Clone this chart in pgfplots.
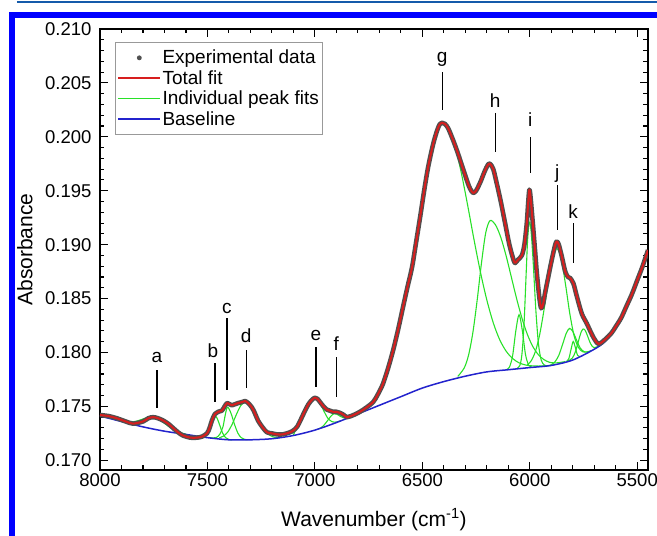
\documentclass[border=0pt]{standalone}
\usepackage{pgfplots}
\pgfplotsset{compat=1.18}
\usepackage{fontspec}
\setmainfont{Liberation Sans}
\definecolor{expgray}{RGB}{80,80,80}
\definecolor{fitred}{RGB}{215,30,30}
\definecolor{peakgreen}{RGB}{40,225,40}
\definecolor{baseblue}{RGB}{35,35,205}
\definecolor{frameblue}{RGB}{0,0,255}
\definecolor{topline}{RGB}{20,90,170}
\begin{document}
\begin{tikzpicture}
\useasboundingbox (-100pt,-66pt) rectangle (557pt,470pt);
\draw[frameblue, line width=5.5pt, line join=miter] (-87.8pt,-80pt) -- (-87.8pt,455.2pt) -- (570pt,455.2pt);
\draw[topline, line width=2pt] (-83pt,468.3pt) -- (570pt,468.3pt);
\begin{axis}[
  scale only axis, width=548pt, height=441pt, at={(0pt,0pt)}, anchor=south west,
  xmin=5450, xmax=8000, x dir=reverse, ymin=0.1691, ymax=0.210,
  scaled x ticks=false, scaled y ticks=false,
  xtick={5500,6000,6500,7000,7500,8000}, minor x tick num=4,
  ytick={0.170,0.175,0.180,0.185,0.190,0.195,0.200,0.205,0.210}, minor y tick num=4,
  major tick length=8pt, minor tick length=4.5pt,
  every tick/.style={black, line width=1.1pt},
  axis line style={black, line width=1.3pt},
  tick label style={font=\fontsize{18.5}{20}\selectfont},
  /pgf/number format/assume math mode=true,
  xticklabel style={/pgf/number format/set thousands separator={}},
  yticklabel style={xshift=-5pt, /pgf/number format/fixed, /pgf/number format/fixed zerofill, /pgf/number format/precision=3},
  xlabel={Wavenumber (cm\textsuperscript{-1})}, ylabel={Absorbance},
  label style={font=\fontsize{21}{24}\selectfont},
  xlabel style={at={(axis description cs:0.5,-0.113)}, anchor=center},
  ylabel style={at={(axis description cs:-0.137,0.5)}, anchor=center},
  legend style={at={(0.0274,0.9705)}, anchor=north west, draw=gray!80, line width=0.8pt,
    font=\fontsize{19}{20}\selectfont, inner xsep=2pt, inner ysep=6.5pt, row sep=2.5pt,
    nodes={inner sep=1.3pt}},
  legend cell align=left,
]
\addlegendimage{legend image code/.code={\fill[expgray] (21pt,0pt) circle (2pt);}}
\addlegendentry{Experimental data}
\addlegendimage{legend image code/.code={\draw[fitred, line width=1.8pt] (0pt,0pt) -- (42pt,0pt);}}
\addlegendentry{Total fit}
\addlegendimage{legend image code/.code={\draw[peakgreen, line width=1.8pt] (0pt,0pt) -- (42pt,0pt);}}
\addlegendentry{Individual peak fits}
\addlegendimage{legend image code/.code={\draw[baseblue, line width=1.8pt] (0pt,0pt) -- (42pt,0pt);}}
\addlegendentry{Baseline}

% ---------- individual peak fits (baseline + peak) ----------
% a
\addplot[forget plot, peakgreen, line width=1.1pt, smooth] coordinates {
(7900,0.17363) (7875,0.17356) (7850,0.17356) (7825,0.17366) (7800,0.17383) (7775,0.17399) (7750,0.17400)
(7725,0.17379) (7700,0.17343) (7675,0.17306) (7650,0.17276) (7625,0.17256) (7600,0.17243)};
% b
\addplot[forget plot, peakgreen, line width=1.1pt, smooth] coordinates {
(7545,0.17224) (7530,0.17222) (7515,0.17231) (7500,0.17269) (7485,0.17346) (7475,0.17394) (7465,0.17413)
(7455,0.17390) (7445,0.17338) (7430,0.17255) (7415,0.17209) (7400,0.17193) (7385,0.17190)};
% c
\addplot[forget plot, peakgreen, line width=1.1pt, smooth] coordinates {
(7488,0.17210) (7473,0.17207) (7458,0.17212) (7443,0.17240) (7428,0.17309) (7418,0.17412) (7408,0.17492)
(7398,0.17471) (7388,0.17423) (7373,0.17327) (7358,0.17251) (7343,0.17210) (7328,0.17195) (7313,0.17191)};
% d
\addplot[forget plot, peakgreen, line width=1.1pt, smooth] coordinates {
(7445,0.17209) (7425,0.17225) (7405,0.17263) (7385,0.17334) (7365,0.17426) (7345,0.17507) (7325,0.17540)
(7305,0.17516) (7285,0.17455) (7265,0.17378) (7245,0.17308) (7225,0.17257) (7205,0.17227) (7185,0.17212) (7165,0.17211)};
% e
\addplot[forget plot, peakgreen, line width=1.1pt, smooth] coordinates {
(7100,0.17235) (7080,0.17323) (7060,0.17396) (7040,0.17478) (7020,0.17547) (7000,0.17580) (6980,0.17549)
(6960,0.17464) (6940,0.17391) (6920,0.17358) (6900,0.17355) (6880,0.17367)};
% f
\addplot[forget plot, peakgreen, line width=1.1pt, smooth] coordinates {
(6987,0.17290) (6972,0.17301) (6957,0.17328) (6942,0.17365) (6927,0.17406) (6912,0.17432) (6897,0.17427)
(6882,0.17408) (6867,0.17394) (6852,0.17393) (6837,0.17401)};
% g
\addplot[forget plot, peakgreen, line width=1.1pt, smooth] coordinates {
(6790,0.17440) (6760,0.17480) (6729,0.17540) (6710,0.17600) (6697,0.17650) (6683,0.17710) (6660,0.17850)
(6636,0.18020) (6613,0.18210) (6590,0.18420) (6570,0.18600) (6548,0.18790) (6530,0.19010) (6510,0.19260)
(6490,0.19520) (6473,0.19720) (6450,0.19930) (6431,0.20060) (6418,0.20120) (6408,0.20130) (6395,0.20119)
(6380,0.20086) (6350,0.19927) (6320,0.19678) (6290,0.19374) (6260,0.19051) (6230,0.18748) (6200,0.18487)
(6170,0.18275) (6140,0.18118) (6110,0.18012) (6080,0.17944) (6050,0.17904) (6020,0.17884) (5990,0.17876)
(5960,0.17874) (5930,0.17877) (5900,0.17880)};
% h
\addplot[forget plot, peakgreen, line width=1.1pt, smooth] coordinates {
(6335,0.17778) (6305,0.17857) (6285,0.17975) (6265,0.18183) (6245,0.18483) (6225,0.18827) (6205,0.19110)
(6185,0.19223) (6160,0.19185) (6135,0.19068) (6110,0.18895) (6085,0.18692) (6060,0.18489) (6035,0.18308)
(6010,0.18161) (5985,0.18052) (5960,0.17979) (5935,0.17935) (5910,0.17910) (5885,0.17903) (5860,0.17907) (5835,0.17916)};
% small peak near 6050
\addplot[forget plot, peakgreen, line width=1.1pt, smooth] coordinates {
(6110,0.17840) (6095,0.17863) (6080,0.17969) (6065,0.18201) (6050,0.18350) (6035,0.18207) (6020,0.17981)
(6005,0.17881) (5990,0.17864)};
% i
\addplot[forget plot, peakgreen, line width=1.1pt, smooth] coordinates {
(6062,0.17849) (6047,0.17877) (6037,0.17976) (6027,0.18253) (6017,0.18728) (6010,0.19049) (6002,0.19210)
(5994,0.19125) (5984,0.18829) (5972,0.18399) (5960,0.18086) (5947,0.17930) (5932,0.17883) (5917,0.17877)};
% j
\addplot[forget plot, peakgreen, line width=1.1pt, smooth] coordinates {
(6014,0.17878) (5994,0.17921) (5974,0.18009) (5954,0.18166) (5934,0.18394) (5914,0.18654) (5894,0.18871)
(5874,0.18963) (5854,0.18872) (5834,0.18634) (5814,0.18363) (5794,0.18156) (5774,0.18047) (5754,0.18007)
(5734,0.18004) (5714,0.18018)};
% k
\addplot[forget plot, peakgreen, line width=1.1pt, smooth] coordinates {
(5905,0.17881) (5885,0.17908) (5865,0.17973) (5845,0.18090) (5830,0.18180) (5815,0.18223) (5800,0.18195)
(5785,0.18127) (5765,0.18040) (5745,0.18005) (5725,0.18008)};
% small peak near 5798
\addplot[forget plot, peakgreen, line width=1.1pt, smooth] coordinates {
(5828,0.17920) (5818,0.17945) (5808,0.18029) (5798,0.18102) (5788,0.18045) (5778,0.17975) (5768,0.17964)};
% small peak near 5752
\addplot[forget plot, peakgreen, line width=1.1pt, smooth] coordinates {
(5822,0.17922) (5802,0.17948) (5787,0.18011) (5772,0.18117) (5762,0.18184) (5752,0.18218) (5742,0.18204)
(5732,0.18157) (5717,0.18081) (5702,0.18045) (5682,0.18057)};

% ---------- baseline ----------
\addplot[forget plot, baseblue, line width=1.5pt, smooth] coordinates {
(8000,0.1741) (7900,0.1736) (7800,0.1731) (7700,0.1727) (7600,0.1724) (7500,0.1721) (7400,0.1719)
(7300,0.1719) (7200,0.1720) (7100,0.1723) (7000,0.1728) (6900,0.1735) (6800,0.1743) (6700,0.1751)
(6600,0.1759) (6500,0.1767) (6400,0.1773) (6300,0.1778) (6200,0.1782) (6100,0.1784) (6000,0.1786)
(5900,0.1788) (5800,0.1793) (5700,0.1803) (5650,0.1810) (5600,0.1822) (5550,0.1841) (5500,0.1865) (5450,0.1893)};

% ---------- experimental data and total fit ----------
\pgfplotstableread{
x y
8000 0.1742
7960 0.1741
7922 0.1739
7880 0.1736
7846 0.1734
7800 0.1736
7775 0.1739
7753 0.1740
7730 0.1739
7707 0.1737
7683 0.1734
7660 0.1730
7637 0.1726
7614 0.1723
7580 0.1721
7549 0.1721
7525 0.1722
7502 0.1725
7490 0.1730
7479 0.1737
7465 0.1743
7450 0.1745
7433 0.1746
7420 0.1750
7409 0.1753
7397 0.1752
7386 0.1751
7372 0.1752
7358 0.1753
7340 0.1754
7325 0.1755
7310 0.1753
7293 0.1749
7280 0.1744
7265 0.1737
7245 0.1731
7223 0.1726
7200 0.1725
7176 0.1724
7150 0.1724
7130 0.1725
7105 0.1727
7083 0.1731
7065 0.1738
7046 0.1746
7030 0.1752
7014 0.1756
7000 0.1758
6988 0.1757
6976 0.1754
6960 0.1750
6944 0.1747
6930 0.1746
6916 0.1745
6900 0.1745
6883 0.1744
6865 0.1742
6850 0.1740
6820 0.1742
6790 0.1745
6760 0.1749
6729 0.1754
6710 0.1760
6697 0.1765
6683 0.1771
6660 0.1785
6636 0.1802
6613 0.1821
6590 0.1842
6570 0.1860
6548 0.1879
6530 0.1901
6510 0.1926
6490 0.1952
6473 0.1972
6450 0.1993
6431 0.2006
6418 0.2012
6408 0.2013
6395 0.2012
6380 0.2008
6357 0.1997
6335 0.1985
6310 0.1970
6290 0.1958
6278 0.1952
6264 0.1948
6250 0.1950
6230 0.1958
6210 0.1968
6195 0.1974
6185 0.1975
6170 0.1970
6154 0.1957
6135 0.1940
6115 0.1920
6095 0.1900
6076 0.1886
6068 0.1883
6055 0.1886
6037 0.1890
6025 0.1900
6014 0.1920
6007 0.1940
6002 0.1951
5997 0.1945
5986 0.1920
5975 0.1893
5967 0.1873
5955 0.1850
5947 0.1841
5938 0.1845
5929 0.1855
5917 0.1867
5905 0.1879
5890 0.1893
5880 0.1901
5874 0.1903
5865 0.1900
5851 0.1889
5835 0.1875
5822 0.1870
5812 0.1869
5797 0.1864
5781 0.1852
5758 0.1836
5735 0.1827
5704 0.1814
5680 0.1808
5650 0.1812
5620 0.1818
5600 0.1824
5575 0.1832
5550 0.1843
5525 0.1854
5500 0.1867
5475 0.1880
5450 0.1895
}\totaltable
\addplot[forget plot, expgray, line width=4.6pt, smooth, line join=round] table[x=x,y=y] {\totaltable};
\addplot[forget plot, fitred, line width=2pt, smooth, line join=round] table[x=x,y=y] {\totaltable};

% ---------- peak labels ----------
\begin{scope}[every node/.style={font=\fontsize{19}{20}\selectfont, anchor=base, inner sep=0pt}]
\node at (axis cs:7735,0.17911) {a};
\node at (axis cs:7474,0.17957) {b};
\node at (axis cs:7409,0.18365) {c};
\node at (axis cs:7320,0.18096) {d};
\node at (axis cs:6995,0.18115) {e};
\node at (axis cs:6901,0.18022) {f};
\node at (axis cs:6408,0.20685) {g};
\node at (axis cs:6161,0.20276) {h};
\node at (axis cs:5998,0.20100) {i};
\node at (axis cs:5872,0.19618) {j};
\node at (axis cs:5798,0.19247) {k};
\end{scope}
\begin{scope}[line width=1.2pt, black]
\draw (axis cs:7735,0.17837) -- (axis cs:7735,0.17484);
\draw (axis cs:7465,0.17901) -- (axis cs:7465,0.17540);
\draw (axis cs:7409,0.18319) -- (axis cs:7409,0.17651);
\draw (axis cs:7320,0.18022) -- (axis cs:7320,0.17670);
\draw (axis cs:6995,0.18050) -- (axis cs:6995,0.17679);
\draw (axis cs:6901,0.17957) -- (axis cs:6901,0.17586);
\draw (axis cs:6408,0.20601) -- (axis cs:6408,0.20249);
\draw (axis cs:6161,0.20221) -- (axis cs:6161,0.19859);
\draw (axis cs:5998,0.19998) -- (axis cs:5998,0.19664);
\draw (axis cs:5872,0.19553) -- (axis cs:5872,0.19135);
\draw (axis cs:5798,0.19200) -- (axis cs:5798,0.18829);
\end{scope}
\end{axis}
\end{tikzpicture}
\end{document}
